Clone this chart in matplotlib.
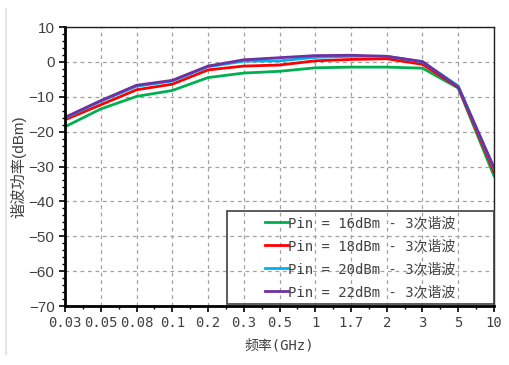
import matplotlib
matplotlib.use("Agg")
import matplotlib.pyplot as plt
from matplotlib.lines import Line2D
from matplotlib.patches import Rectangle
from matplotlib.ticker import MultipleLocator

freq_labels = ["0.03", "0.05", "0.08", "0.1", "0.2", "0.3", "0.5", "1", "1.7", "2", "3", "5", "10"]
p16 = [-18.6, -13.5, -9.9, -8.2, -4.5, -3.2, -2.7, -1.7, -1.5, -1.5, -1.8, -7.5, -32.7]
p18 = [-16.6, -12.3, -8.0, -6.4, -2.3, -1.2, -0.9, 0.3, 0.7, 0.9, -0.7, -7.3, -31.5]
p20 = [-16.1, -11.3, -7.0, -5.5, -1.4, 0.2, 0.3, 1.3, 1.6, 1.6, 0.0, -6.9, -30.6]
p22 = [-15.9, -11.1, -6.7, -5.3, -1.2, 0.6, 1.2, 1.8, 1.9, 1.6, 0.1, -7.2, -30.3]
series = [
    ("Pin = 16dBm - 3次谐波", p16, "#00B050"),
    ("Pin = 18dBm - 3次谐波", p18, "#FF0000"),
    ("Pin = 20dBm - 3次谐波", p20, "#00B0F0"),
    ("Pin = 22dBm - 3次谐波", p22, "#7030A0"),
]

mono = ["DejaVu Sans Mono", "Noto Sans CJK SC"]
sans = ["Liberation Sans", "Noto Sans CJK SC"]
plt.rcParams["font.family"] = sans

fig = plt.figure(figsize=(5.1, 3.65), dpi=100)
ax = fig.add_axes([0.1275, 0.1616, 0.8411, 0.7644])

x = list(range(len(freq_labels)))
for label, vals, color in series:
    ax.plot(x, vals, color=color, lw=2.0, label=label)

ax.set_xlim(0, len(freq_labels) - 1)
ax.set_ylim(-70, 10)
ax.set_xticks(x)
ax.set_xticklabels(freq_labels, family=mono, fontsize=10, color="#404040")
ax.xaxis.set_minor_locator(MultipleLocator(0.5))
ax.yaxis.set_major_locator(MultipleLocator(10))
ax.yaxis.set_minor_locator(MultipleLocator(2))
ax.tick_params(axis="y", labelsize=11, colors="black", labelcolor="#404040")
ax.tick_params(which="major", length=4, width=1.2)
ax.tick_params(which="minor", length=2.5, width=1.0)
ax.grid(which="major", ls=(0, (3, 3)), color="#A0A0A0", lw=0.9)

for side in ("left", "bottom"):
    ax.spines[side].set_linewidth(2.0)
for side in ("top", "right"):
    ax.spines[side].set_linewidth(1.0)
    ax.spines[side].set_color("#202020")

ax.set_xlabel("频率(GHz)", family=mono, fontsize=10, color="#404040", labelpad=6)
ax.set_ylabel("谐波功率(dBm)", fontsize=11, color="#404040", labelpad=2)

# legend box: transparent, gridlines show through
box_x0, box_y0, box_x1, box_y1 = 0.378, 0.007, 1.0, 0.34
ax.add_patch(Rectangle((box_x0, box_y0), box_x1 - box_x0, box_y1 - box_y0,
                       transform=ax.transAxes, fill=False, edgecolor="#404040",
                       lw=1.2, zorder=5, clip_on=False))
leg = ax.legend(loc="center", bbox_to_anchor=((box_x0 + box_x1) / 2, (box_y0 + box_y1) / 2),
                prop={"family": mono, "size": 10}, frameon=False,
                handlelength=1.65, handletextpad=0.0, labelspacing=0.65,
                borderaxespad=0.0, borderpad=0.0)
for t in leg.get_texts():
    t.set_color("#404040")

fig.add_artist(Line2D([0.011, 0.011], [0.03, 0.975], transform=fig.transFigure,
                      color="#E6E6E6", lw=1.5))

fig.savefig("out.png", dpi=100)
